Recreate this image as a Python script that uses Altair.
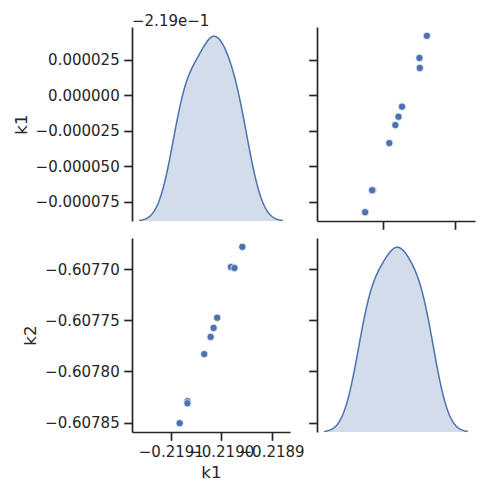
import altair as alt
import numpy as np
import pandas as pd

k1 = [-0.2190825, -0.2190669, -0.2190670, -0.2190337, -0.2190210,
      -0.2190151, -0.2190080, -0.2189807, -0.2189736, -0.2189580]
k2 = [-0.6078506, -0.6078291, -0.6078311, -0.6077831, -0.6077663,
      -0.6077575, -0.6077476, -0.6076980, -0.6076990, -0.6076783]

k1_ticks_x = [-0.2191, -0.2190, -0.2189]
k2_ticks_x = [-0.6078, -0.6076]
k1_ticks_y = [-0.219075, -0.21905, -0.219025, -0.219, -0.218975]
k2_ticks_y = [-0.60785, -0.60780, -0.60775, -0.60770]
k1_offset_text = "−2.19e−1"
k1_offset = 0.219

BLUE = "#4c72b0"
INK = "#262626"
FONT = "DejaVu Sans"
W, H = 158, 194

df = pd.DataFrame({"k1": k1, "k2": k2})


def kde_setup(v):
    v = np.asarray(v, dtype=float)
    bw = float(v.std(ddof=1) * len(v) ** (-0.2))
    lo, hi = float(v.min() - 3 * bw), float(v.max() + 3 * bw)
    pad = 0.05 * (hi - lo)
    return bw, [lo, hi], [lo - pad, hi + pad]


def data_dom(v):
    lo, hi = float(min(v)), float(max(v))
    pad = 0.05 * (hi - lo)
    return [lo - pad, hi + pad]


bw1, ext1, k1_xdom = kde_setup(k1)
bw2, ext2, k2_xdom = kde_setup(k2)
k1_ydom = data_dom(k1)
k2_ydom = data_dom(k2)

MINUS = "replace(format(datum.value, '{f}'), '-', '\u2212')"


def ax(values, fmt, labels, title=None, expr=None):
    kw = dict(values=values, labels=labels, labelExpr=expr or MINUS.format(f=fmt))
    if title:
        kw["title"] = title
    else:
        kw["title"] = None
    return alt.Axis(**kw)


k1_y_expr = "replace(format(datum.value + %s, '.6f'), '-', '\u2212')" % k1_offset


def diag(col, bw, ext, xdom, ydom, xaxis, yaxis):
    base_axes = alt.Chart(df).mark_point(opacity=0).encode(
        x=alt.X(f"{col}:Q", scale=alt.Scale(domain=xdom, nice=False, zero=False), axis=xaxis),
        y=alt.Y(f"{col}:Q", scale=alt.Scale(domain=ydom, nice=False, zero=False), axis=yaxis),
    )
    dens = (
        alt.Chart(df)
        .transform_density(col, as_=["value", "density"], bandwidth=bw, extent=ext, steps=200)
        .transform_joinaggregate(mx="max(density)")
        .transform_calculate(d="datum.density / datum.mx")
    )
    xe = alt.X("value:Q", scale=alt.Scale(domain=xdom, nice=False, zero=False), axis=None)
    ye = alt.Y("d:Q", scale=alt.Scale(domain=[0, 1.05], nice=False), axis=None)
    area = dens.mark_area(color=BLUE, opacity=0.25).encode(x=xe, y=ye)
    line = dens.mark_line(color=BLUE, strokeWidth=1.5).encode(x=xe, y=ye)
    return alt.layer(base_axes, area, line).resolve_scale(y="independent").properties(width=W, height=H)


def scatter(xcol, ycol, xdom, ydom, xaxis, yaxis):
    return alt.Chart(df).mark_circle(
        size=54, color=BLUE, opacity=1, stroke="white", strokeWidth=0.7
    ).encode(
        x=alt.X(f"{xcol}:Q", scale=alt.Scale(domain=xdom, nice=False, zero=False), axis=xaxis),
        y=alt.Y(f"{ycol}:Q", scale=alt.Scale(domain=ydom, nice=False, zero=False), axis=yaxis),
    ).properties(width=W, height=H)


tl = diag(
    "k1", bw1, ext1, k1_xdom, k1_ydom,
    ax(k1_ticks_x, ".4f", False),
    ax(k1_ticks_y, ".6f", True, "k1", k1_y_expr),
).properties(
    title=alt.TitleParams(k1_offset_text, anchor="start", frame="group", fontSize=15,
                          fontWeight="normal", color=INK, font=FONT, offset=-2)
)
tr = scatter("k2", "k1", k2_xdom, k1_ydom,
             ax(k2_ticks_x, ".4f", False),
             ax(k1_ticks_y, ".6f", False))
bl = scatter("k1", "k2", k1_xdom, k2_ydom,
             ax(k1_ticks_x, ".4f", True, "k1"),
             ax(k2_ticks_y, ".5f", True, "k2"))
br = diag(
    "k2", bw2, ext2, k2_xdom, k2_ydom,
    ax(k2_ticks_x, ".4f", True, "k2"),
    ax(k2_ticks_y, ".5f", False),
)

chart = alt.concat(
    tl, tr, bl, br, columns=2, spacing={"row": 17, "column": 27}, bounds="flush"
).properties(
    padding={"left": 5, "top": 6, "right": 5, "bottom": 5}
).configure_view(
    stroke=None
).configure_axis(
    grid=False,
    domainColor=INK, domainWidth=1.7,
    tickColor=INK, tickWidth=1.7, tickSize=8.3,
    labelColor=INK, labelFont=FONT, labelFontSize=15, labelPadding=4.5,
    labelOverlap=False, labelFlush=False, labelBound=False,
    titleColor=INK, titleFont=FONT, titleFontSize=16.7, titleFontWeight="normal",
    titlePadding=5,
)

chart.save("out.html", embed_options={"renderer": "svg", "actions": False})
